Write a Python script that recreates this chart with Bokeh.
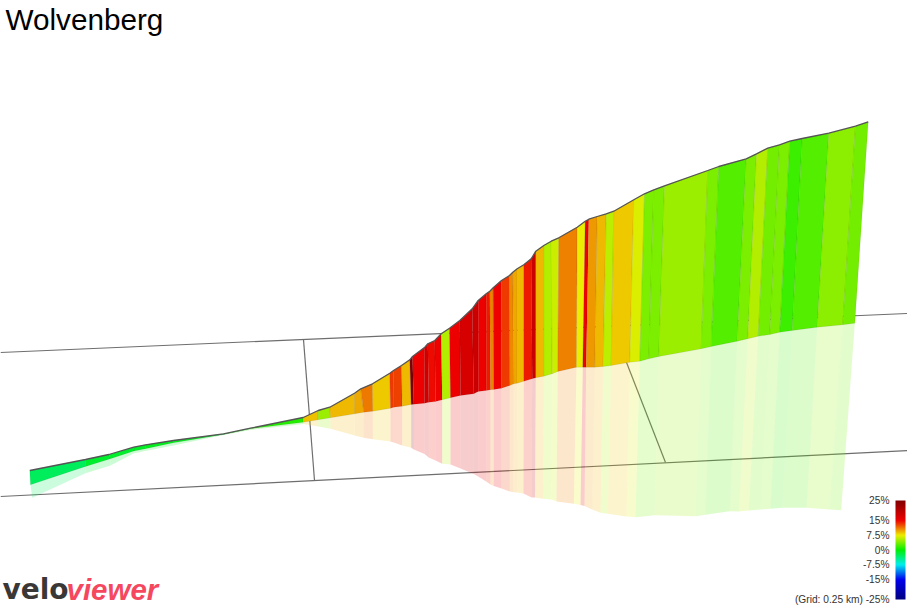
from bokeh.plotting import figure
from bokeh.models import ColumnDataSource, ColorBar, LinearColorMapper, Range1d, FixedTicker
from bokeh.core.properties import value
from bokeh.transform import transform
from bokeh.embed import file_html
from bokeh.resources import INLINE

TITLE = "Wolvenberg"

# Gradient (%) of each climb section
grade = [-2.8, -1.5, -1.3, -1.2, -1.0, -0.8, 0.3, 1.0,
         8.9, 4.8, 9.2, 9.5, 11.2, 8.5, 13.2, 12.9, 9.2, 25, 15, 17.5, 14.6, 14.8, 5.5,
         15, 17, 18, 15, 14, 10.8, 14.8, 13, 10.5, 9.5, 9.2, 14, 18, 9, 5.5, 6.3, 10.9,
         7.3, 15.2, 10, 9, 5.8, 8.7, 6.8, 4, 3.9, 4.8, 4, 2.5, 4, 5.5, 3.5, 3.8, 1.8, 2.7, 4.3, 3.5]

# Projected climb profile (section boundaries)
top_x = [29.3, 85, 108.3, 133.3, 145, 173, 223, 250, 302.7,
         317.7, 329.3, 354, 360.3, 372, 389.3, 393, 401, 409.3, 412, 424.3, 427.3, 434.3, 440.7, 449,
         459.3, 471.7, 477.7, 485.7, 489.3, 492.7, 501, 509, 512.3, 516.7, 523.3, 530.7, 535.3, 543.3, 550.7, 558.3,
         576.7, 584.7, 588.3, 596.7, 605.7, 613.3, 633.3, 644, 653.3, 664, 707.3, 718.3, 745.7, 756, 767.3, 779, 789.3, 801.7, 828.3, 855, 867.7]
top_y = [470, 459, 454, 446.7, 444.3, 440, 433.3, 427.7, 417,
         410, 406.7, 392.7, 388.3, 383.3, 372.7, 370, 365, 359.3, 356, 346.7, 343.3, 340, 333.3, 327.7,
         320, 308.3, 300, 293.3, 290.7, 287.3, 280, 275, 271.7, 268.3, 264.3, 258.3, 250.7, 245, 240.7, 237.3,
         226.7, 220.7, 218.7, 216, 213.3, 210.7, 199.3, 193.3, 189.3, 185.3, 170, 166, 158.3, 153.3, 147.7, 144.3, 140.7, 138, 132.7, 125.7, 121.3]
road_x = [30, 85, 110, 133.5, 145, 173, 223, 250, 302.7,
          317.7, 330, 354.3, 363.3, 372.3, 390, 393.3, 401.7, 410.7, 413.3, 424, 428.3, 435, 441.7, 450,
          460, 473.3, 477.7, 485.7, 490, 493.3, 501, 509.3, 513.3, 516.7, 523.3, 531.7, 535.3, 543.3, 551.7, 557.3,
          576, 582.3, 585.7, 594.3, 602.7, 610.7, 629.3, 639.3, 648.3, 658.3, 700.7, 710.7, 736.7, 747.3, 757.7, 769.3, 779.3, 791.7, 816.7, 842.3, 854.3]
road_y = [484.3, 466, 458.3, 450.5, 448.3, 442.3, 434, 428.3, 421.7,
          419.3, 417.3, 413.3, 411.7, 410.7, 407.7, 406.7, 405.7, 404, 403.7, 402.7, 401.7, 401, 399.3, 397.3,
          395, 393.3, 391, 390, 389.3, 389, 387.7, 385, 383.3, 382.7, 380.7, 378.3, 377.3, 375.7, 373.3, 371,
          366.7, 366.7, 366.7, 366.7, 366, 365, 361.7, 360.7, 358.3, 356, 348.3, 346, 340.7, 338.3, 335.7, 334, 331.7, 330, 326.7, 324.3, 322.7]
shadow_x = [31.7, 85, 110, 133, 143.3, 173, 220, 250, 303,
            317.7, 330, 354.3, 363, 372.3, 390, 393.3, 401.7, 410.7, 413.3, 424, 428.3, 435, 441.7, 450,
            460, 473.3, 477.7, 485.7, 490, 493.3, 501, 509.3, 513, 516.5, 523, 531, 534.5, 542.5, 551, 556,
            573.3, 580, 584, 591.7, 600, 607.3, 626, 635, 645, 654, 695, 705, 729.3, 738.3, 748.3, 760, 770, 781.7, 806, 829.3, 840.7]
shadow_y = [497.3, 472.7, 465, 453, 450.7, 445, 435, 429.5, 423.5,
            426, 428.3, 435, 437.3, 438.7, 441, 442, 445, 447.3, 449, 453.5, 457, 460, 463.3, 464,
            468, 473.5, 476, 481, 484, 485.5, 488, 491, 491.7, 492, 493, 497, 497, 498.3, 499, 501,
            503.3, 504.5, 505.5, 509, 512.3, 513.3, 516, 516.7, 515.7, 514.7, 515.7, 514.3, 510.7, 511, 510, 509, 508.3, 507.3, 507.3, 509, 509.7]

# Ground grid (0.25 km)
grid_x0 = [0, 0, 303, 612]
grid_y0 = [352, 496, 339, 326]
grid_x1 = [907, 907, 314, 665]
grid_y1 = [313, 450, 480, 462]

# Colour legend
legend_labels = ["25%", "15%", "7.5%", "0%", "-7.5%", "-15%", "(Grid: 0.25 km) -25%"]
legend_y = [499.5, 519.5, 534.5, 549.5, 564, 579, 599]

# Colour scale anchors
scale_colors = [(0, 0, 128), (0, 0, 238), (0, 238, 238), (0, 238, 0), (238, 238, 0), (238, 0, 0), (128, 0, 0)]
scale_stops = [-25, -15, -7.5, 0, 7.5, 15, 25]


def build_palette(n=200):
    out = []
    for k in range(n):
        g = scale_stops[0] + (scale_stops[-1] - scale_stops[0]) * k / (n - 1)
        for j in range(len(scale_stops) - 1):
            if g <= scale_stops[j + 1]:
                t = (g - scale_stops[j]) / (scale_stops[j + 1] - scale_stops[j])
                c = [round(a + (b - a) * t) for a, b in zip(scale_colors[j], scale_colors[j + 1])]
                out.append("#%02x%02x%02x" % tuple(c))
                break
    return out


mapper = LinearColorMapper(palette=build_palette(), low=-25, high=25)

n = len(grade)
wall = ColumnDataSource(dict(
    xs=[[top_x[i], top_x[i + 1], road_x[i + 1], road_x[i]] for i in range(n)],
    ys=[[top_y[i], top_y[i + 1], road_y[i + 1], road_y[i]] for i in range(n)],
    grade=grade))
shadow = ColumnDataSource(dict(
    xs=[[road_x[i], road_x[i + 1], shadow_x[i + 1], shadow_x[i]] for i in range(n)],
    ys=[[road_y[i], road_y[i + 1], shadow_y[i + 1], shadow_y[i]] for i in range(n)],
    grade=grade))

p = figure(width=907, height=607, output_backend="svg", toolbar_location=None,
           x_range=Range1d(0, 907), y_range=Range1d(607, 0), min_border=0)
p.axis.visible = False
p.grid.visible = False
p.outline_line_color = None

FONT = value("Liberation Sans")
p.segment(grid_x0, grid_y0, grid_x1, grid_y1, line_color="#6e6e6e", line_width=1.2)
p.patches("xs", "ys", source=shadow, fill_color=transform("grade", mapper), fill_alpha=0.2,
          line_color=None)
p.patches("xs", "ys", source=wall, fill_color=transform("grade", mapper), fill_alpha=1,
          line_color="#000000", line_alpha=0.07, line_width=1)
p.line(top_x, top_y, line_color="#555555", line_width=1.3)

p.text([5], [18.5], text=[TITLE], text_font=FONT, text_font_size="29.7px",
       text_color="#000000", text_align="left", text_baseline="middle")
p.text([889] * len(legend_labels), legend_y, text=legend_labels, text_font=FONT,
       text_font_size="10.2px", text_color="#333333", text_align="right", text_baseline="middle")
p.text([2], [589], text=["velo"], text_font=value("DejaVu Sans"), text_font_style="bold",
       text_font_size="28px", text_color="#3a3837", text_align="left", text_baseline="middle")
p.text([66], [589], text=["viewer"], text_font=FONT, text_font_style="bold italic",
       text_font_size="29.5px", text_color="#f5485f", text_align="left", text_baseline="middle")

cb = ColorBar(color_mapper=mapper, location=(895, 8), width=10, height=99, padding=0, margin=0,
              ticker=FixedTicker(ticks=[]), major_tick_line_color=None, bar_line_color=None,
              background_fill_alpha=0, border_line_color=None)
p.add_layout(cb)

open("out.html", "w").write(file_html(p, INLINE))
